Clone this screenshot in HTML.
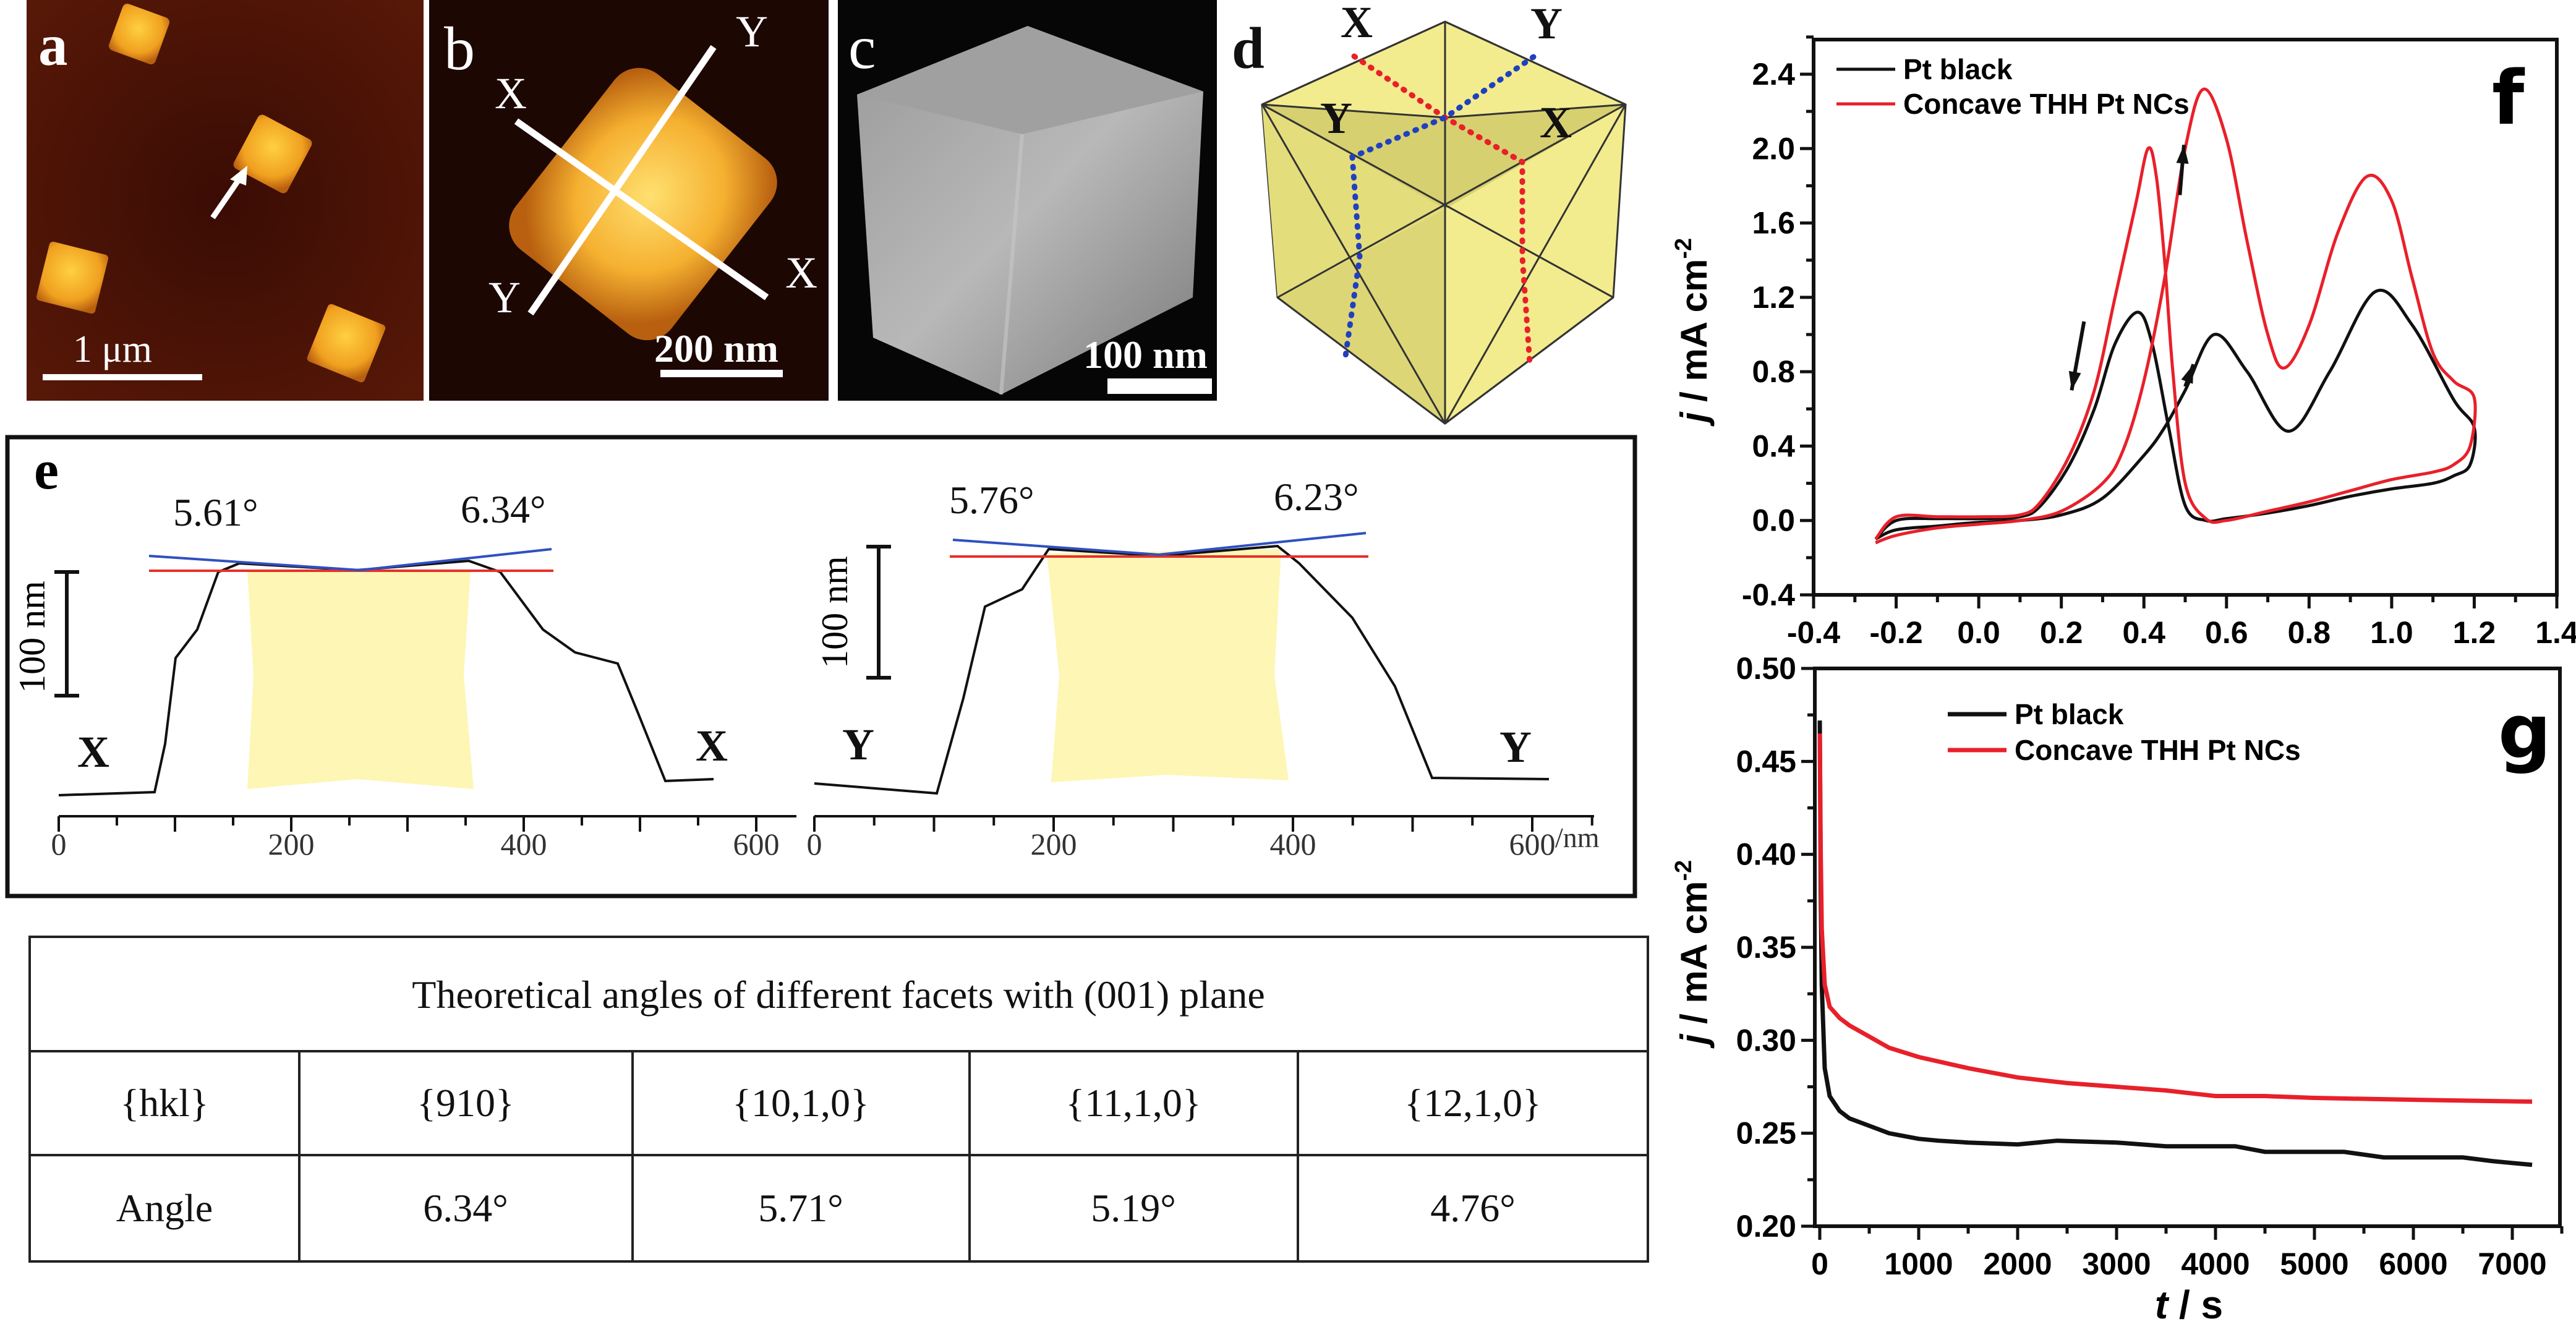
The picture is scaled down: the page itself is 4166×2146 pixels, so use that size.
<!DOCTYPE html>
<html><head><meta charset="utf-8">
<style>
html,body{margin:0;padding:0;background:#fff;}
svg{display:block;}
.ser{font-family:"Liberation Serif","DejaVu Serif",serif;}
.san{font-family:"Liberation Sans","DejaVu Sans",sans-serif;}
</style></head>
<body>
<svg id="fig" width="4166" height="2146" viewBox="0 0 4166 2146" xmlns="http://www.w3.org/2000/svg">
<defs>
<radialGradient id="bgA" cx="0.5" cy="0.5" r="0.8"><stop offset="0" stop-color="#3a0c04"/><stop offset="1" stop-color="#5c1a08"/></radialGradient>
<radialGradient id="cube" cx="0.45" cy="0.4" r="0.7"><stop offset="0" stop-color="#ffd040"/><stop offset="0.7" stop-color="#f0a020"/><stop offset="1" stop-color="#b86010"/></radialGradient>
<radialGradient id="bigB" cx="0.5" cy="0.45" r="0.6"><stop offset="0" stop-color="#ffe070"/><stop offset="0.6" stop-color="#f5b030"/><stop offset="1" stop-color="#b86010"/></radialGradient>
<linearGradient id="gcube" x1="0" y1="0" x2="1" y2="1"><stop offset="0" stop-color="#9a9a9a"/><stop offset="0.5" stop-color="#b8b8b8"/><stop offset="1" stop-color="#7a7a7a"/></linearGradient>
</defs>

<!-- Panel a -->
<g>
<rect x="43" y="0" width="642" height="648" fill="url(#bgA)"/>
<rect x="185" y="15" width="80" height="80" rx="8" fill="url(#cube)" transform="rotate(20 225 55)"/>
<rect x="392" y="200" width="98" height="98" rx="8" fill="url(#cube)" transform="rotate(28 441 249)"/>
<rect x="68" y="400" width="98" height="98" rx="6" fill="url(#cube)" transform="rotate(14 117 449)"/>
<rect x="510" y="505" width="100" height="100" rx="6" fill="url(#cube)" transform="rotate(22 560 555)"/>
<line x1="344" y1="352" x2="390" y2="285" stroke="#fff" stroke-width="9"/>
<polygon points="400,268 372,290 398,300" fill="#fff"/>
<text x="62" y="105" class="ser" font-size="95" fill="#fff" font-weight="bold">a</text>
<text x="118" y="585" class="ser" font-size="62" fill="#fff">1 μm</text>
<rect x="69" y="605" width="258" height="10" fill="#fff"/>
</g>

<!-- Panel b -->
<g>
<rect x="694" y="0" width="646" height="648" fill="#1c0703"/>
<rect x="880" y="150" width="320" height="360" rx="50" fill="url(#bigB)" transform="rotate(38 1040 330)"/>
<line x1="835" y1="196" x2="1240" y2="481" stroke="#fff" stroke-width="11"/>
<line x1="1154" y1="76" x2="858" y2="507" stroke="#fff" stroke-width="11"/>
<text x="800" y="175" class="ser" font-size="72" fill="#fff">X</text>
<text x="1190" y="75" class="ser" font-size="72" fill="#fff">Y</text>
<text x="790" y="505" class="ser" font-size="72" fill="#fff">Y</text>
<text x="1270" y="465" class="ser" font-size="72" fill="#fff">X</text>
<text x="718" y="112" class="ser" font-size="100" fill="#fff">b</text>
<text x="1058" y="585" class="ser" font-size="64" fill="#fff" font-weight="bold">200 nm</text>
<rect x="1068" y="598" width="198" height="12" fill="#fff"/>
</g>

<!-- Panel c -->
<g>
<rect x="1355" y="0" width="613" height="648" fill="#060606"/>
<polygon points="1662,42 1946,148 1929,481 1619,638 1412,546 1386,153" fill="url(#gcube)"/>
<polygon points="1662,42 1946,148 1653,217 1386,153" fill="#a0a0a0"/>
<line x1="1653" y1="217" x2="1619" y2="638" stroke="#c8c8c8" stroke-width="6" opacity="0.6"/>
<text x="1372" y="110" class="ser" font-size="100" fill="#fff">c</text>
<text x="1752" y="595" class="ser" font-size="64" fill="#fff" font-weight="bold">100 nm</text>
<rect x="1791" y="612" width="169" height="25" fill="#fff"/>
</g>

<!-- Panel d -->
<g stroke="#333" stroke-width="3">
<polygon points="2337,35 2629,169 2609,481 2337,685 2066,481 2041,169" fill="#f2ec8e"/>
<polygon points="2041,169 2337,190 2629,169 2337,338" fill="#d6d070" stroke="none"/>
<polygon points="2041,169 2337,338 2066,481" fill="#e4dd7c" stroke="none"/>
<polygon points="2337,338 2337,685 2066,481" fill="#ddd676" stroke="none"/>
<line x1="2337" y1="35" x2="2041" y2="169"/><line x1="2337" y1="35" x2="2629" y2="169"/>
<line x1="2337" y1="35" x2="2337" y2="190"/>
<line x1="2041" y1="169" x2="2337" y2="190"/><line x1="2629" y1="169" x2="2337" y2="190"/>
<line x1="2337" y1="190" x2="2337" y2="685"/>
<line x1="2041" y1="169" x2="2609" y2="481"/><line x1="2629" y1="169" x2="2066" y2="481"/>
<line x1="2066" y1="481" x2="2337" y2="685"/><line x1="2609" y1="481" x2="2337" y2="685"/>
<line x1="2041" y1="169" x2="2337" y2="685"/><line x1="2629" y1="169" x2="2337" y2="685"/>
<polyline points="2190,91 2337,190 2462,262 2462,416 2474,587" fill="none" stroke="#e8202a" stroke-width="9" stroke-dasharray="2 14" stroke-linecap="round"/>
<polyline points="2480,92 2337,190 2187,254 2199,416 2175,583" fill="none" stroke="#2040c0" stroke-width="9" stroke-dasharray="2 14" stroke-linecap="round"/>
<g stroke="none" class="ser" font-weight="bold" font-size="72" fill="#111">
<text x="1992" y="110" font-size="95">d</text>
<text x="2168" y="60">X</text><text x="2475" y="62">Y</text>
<text x="2135" y="215">Y</text><text x="2490" y="222">X</text>
</g>
</g>

<!-- Panel e -->
<g>
<rect x="12" y="707" width="2632" height="742" fill="none" stroke="#111" stroke-width="7"/>
<text x="55" y="790" class="ser" font-size="90" font-weight="bold">e</text>
<polygon points="400,922 761,922 750,1092 766,1276 577,1260 400,1276 410,1092" fill="#fdf6b5"/>
<polygon points="1693,895 2072,888 2061,1092 2084,1262 1886,1253 1700,1265 1713,1092" fill="#fdf6b5"/>
<polyline fill="none" stroke="#111" stroke-width="4" points="95,1286 250,1281 267,1203 284,1064 319,1018 353,925 387,911 577,922 758,907 809,925 878,1018 930,1055 999,1073 1033,1156 1076,1263 1154,1260"/>
<polyline fill="none" stroke="#111" stroke-width="4" points="1317,1267 1515,1283 1558,1129 1593,981 1653,953 1696,888 1877,899 2066,883 2101,911 2187,999 2256,1110 2316,1258 2505,1260"/>
<line x1="241" y1="923" x2="895" y2="923" stroke="#e8302a" stroke-width="4"/>
<line x1="1536" y1="900" x2="2213" y2="900" stroke="#e8302a" stroke-width="4"/>
<polyline points="241,899 582,922 892,888" fill="none" stroke="#3050c0" stroke-width="4"/>
<polyline points="1541,873 1874,897 2209,862" fill="none" stroke="#3050c0" stroke-width="4"/>
<g class="ser" font-size="64" fill="#111">
<text x="280" y="850">5.61°</text><text x="745" y="845">6.34°</text>
<text x="1535" y="830">5.76°</text><text x="2060" y="825">6.23°</text>
</g>
<g class="ser" font-size="72" font-weight="bold" fill="#111">
<text x="125" y="1240">X</text><text x="1125" y="1230">X</text>
<text x="1362" y="1228">Y</text><text x="2425" y="1232">Y</text>
</g>
<g stroke="#111" stroke-width="6">
<line x1="108" y1="925" x2="108" y2="1125"/><line x1="88" y1="925" x2="128" y2="925"/><line x1="88" y1="1125" x2="128" y2="1125"/>
<line x1="1421" y1="884" x2="1421" y2="1096"/><line x1="1401" y1="884" x2="1441" y2="884"/><line x1="1401" y1="1096" x2="1441" y2="1096"/>
</g>
<text class="ser" font-size="60" transform="translate(72 1030) rotate(-90)" text-anchor="middle">100 nm</text>
<text class="ser" font-size="60" transform="translate(1370 990) rotate(-90)" text-anchor="middle">100 nm</text>
<g id="eaxes" stroke="#111" stroke-width="4"></g>
<g id="elabels" class="ser" font-size="50" fill="#333" text-anchor="middle"></g>
<text x="2515" y="1370" class="ser" font-size="46" fill="#333">/nm</text>
</g>

<!-- Table -->
<g>
<rect x="48" y="1515" width="2617" height="525" fill="none" stroke="#222" stroke-width="4"/>
<line x1="48" y1="1700" x2="2665" y2="1700" stroke="#222" stroke-width="4"/>
<line x1="48" y1="1868" x2="2665" y2="1868" stroke="#222" stroke-width="4"/>
<g stroke="#222" stroke-width="4">
<line x1="484" y1="1700" x2="484" y2="2040"/><line x1="1023" y1="1700" x2="1023" y2="2040"/>
<line x1="1568" y1="1700" x2="1568" y2="2040"/><line x1="2099" y1="1700" x2="2099" y2="2040"/>
</g>
<g class="ser" font-size="64" fill="#111" text-anchor="middle">
<text x="1356" y="1630">Theoretical angles of different facets with (001) plane</text>
<text x="266" y="1805">{hkl}</text><text x="753" y="1805">{910}</text><text x="1295" y="1805">{10,1,0}</text>
<text x="1833" y="1805">{11,1,0}</text><text x="2382" y="1805">{12,1,0}</text>
<text x="266" y="1975">Angle</text><text x="753" y="1975">6.34°</text><text x="1295" y="1975">5.71°</text>
<text x="1833" y="1975">5.19°</text><text x="2382" y="1975">4.76°</text>
</g>
</g>

<!-- Chart f -->
<g id="chartF"></g>
<!-- Chart g -->
<g id="chartG"></g>
</svg>

<script>
// ---- Chart f data ----
const fXTicks = [-0.4,-0.2,0.0,0.2,0.4,0.6,0.8,1.0,1.2,1.4];
const fYTicks = [-0.4,0.0,0.4,0.8,1.2,1.6,2.0,2.4];
const fBlackE = [-0.25,-0.2,-0.1,0.0,0.1,0.2,0.3,0.4,0.45,0.5,0.57,0.65,0.75,0.85,0.96,1.05,1.15,1.2,1.19,1.15,1.1,1.0,0.9,0.8,0.7,0.6,0.55,0.5,0.46,0.42,0.385,0.33,0.28,0.22,0.15,0.1,0.0,-0.1,-0.2,-0.25];
const fBlackJ = [-0.1,-0.05,-0.03,-0.01,0.0,0.03,0.12,0.35,0.5,0.7,1.0,0.8,0.48,0.8,1.23,1.05,0.65,0.5,0.3,0.24,0.2,0.17,0.13,0.08,0.04,0.01,0.0,0.08,0.5,0.95,1.12,0.95,0.6,0.3,0.08,0.02,0.01,0.01,0.0,-0.1];
const fRedE = [-0.25,-0.2,-0.1,0.0,0.1,0.2,0.3,0.35,0.4,0.45,0.5,0.545,0.6,0.65,0.7,0.74,0.8,0.87,0.94,1.0,1.05,1.1,1.15,1.2,1.19,1.15,1.1,1.0,0.9,0.8,0.7,0.6,0.55,0.5,0.47,0.45,0.43,0.41,0.38,0.33,0.28,0.22,0.15,0.1,0.0,-0.1,-0.2,-0.25];
const fRedJ = [-0.12,-0.08,-0.04,-0.02,0.0,0.05,0.2,0.38,0.75,1.3,2.0,2.32,2.05,1.5,1.0,0.82,1.05,1.55,1.85,1.72,1.3,0.9,0.75,0.66,0.4,0.3,0.26,0.22,0.16,0.1,0.05,0.0,0.01,0.2,0.8,1.4,1.85,2.0,1.7,1.2,0.7,0.35,0.1,0.03,0.02,0.02,0.02,-0.1];
// ---- Chart g data ----
const gXTicks = [0,1000,2000,3000,4000,5000,6000,7000];
const gYTicks = [0.20,0.25,0.30,0.35,0.40,0.45,0.50];
const gBlackT = [0,10,20,50,100,150,200,300,400,500,600,700,800,900,1000,1200,1500,2000,2400,3000,3500,4000,4200,4500,5000,5300,5700,6000,6500,6800,7200];
const gBlackJ = [0.472,0.38,0.33,0.285,0.27,0.266,0.262,0.258,0.256,0.254,0.252,0.25,0.249,0.248,0.247,0.246,0.245,0.244,0.246,0.245,0.243,0.243,0.243,0.24,0.24,0.24,0.237,0.237,0.237,0.235,0.233];
const gRedT = [0,10,20,50,100,200,300,500,700,1000,1500,2000,2500,3000,3500,4000,4500,5000,6000,7200];
const gRedJ = [0.465,0.40,0.36,0.33,0.318,0.312,0.308,0.302,0.296,0.291,0.285,0.28,0.277,0.275,0.273,0.27,0.27,0.269,0.268,0.267];

const NS = "http://www.w3.org/2000/svg";
function mk(tag, attrs, parent){ const e=document.createElementNS(NS,tag); for(const k in attrs) e.setAttribute(k,attrs[k]); parent.appendChild(e); return e; }
function smooth(pts){
  let d = "M"+pts[0][0].toFixed(1)+","+pts[0][1].toFixed(1);
  for(let i=0;i<pts.length-1;i++){
    const p0=pts[Math.max(0,i-1)],p1=pts[i],p2=pts[i+1],p3=pts[Math.min(pts.length-1,i+2)];
    const c1=[p1[0]+(p2[0]-p0[0])/6,p1[1]+(p2[1]-p0[1])/6];
    const c2=[p2[0]-(p3[0]-p1[0])/6,p2[1]-(p3[1]-p1[1])/6];
    d+=" C"+c1[0].toFixed(1)+","+c1[1].toFixed(1)+" "+c2[0].toFixed(1)+","+c2[1].toFixed(1)+" "+p2[0].toFixed(1)+","+p2[1].toFixed(1);
  }
  return d;
}

// Panel e axes
(function(){
  const ax=document.getElementById('eaxes'), lb=document.getElementById('elabels');
  const axes=[{x0:95,x1:1288,sx:(827-451)/200,o:95,labels:[0,200,400,600]},{x0:1317,x1:2578,sx:(2075-1688)/200,o:1317,labels:[0,200,400,600]}];
  axes.forEach(a=>{
    mk('line',{x1:a.x0,y1:1320,x2:a.x1,y2:1320},ax);
    for(let v=0;v<=650;v+=50){ const x=a.o+v*a.sx; if(x>a.x1) break; mk('line',{x1:x,y1:1320,x2:x,y2:v%100===0?1345:1335},ax); }
    a.labels.forEach(v=>{ const t=mk('text',{x:a.o+v*a.sx,y:1382},lb); t.textContent=v; });
  });
})();

// Chart f
(function(){
  const g=document.getElementById('chartF');
  const L=2933,R=4135,T=64,B=962;
  const X=v=>L+(v+0.4)/1.8*(R-L);
  const Y=v=>B-(v+0.4)/(2.4+0.4)*(B-120);
  const frame=mk('rect',{x:L,y:T,width:R-L,height:B-T,fill:'none',stroke:'#111','stroke-width':6},g);
  
  
  fXTicks.forEach((v,i)=>{
    mk('line',{x1:X(v),y1:B,x2:X(v),y2:B+22,stroke:'#111','stroke-width':5},g);
    if(i<fXTicks.length-1) mk('line',{x1:X(v+0.1),y1:B,x2:X(v+0.1),y2:B+12,stroke:'#111','stroke-width':5},g);
    const t=mk('text',{x:X(v),y:B+78,'text-anchor':'middle','font-size':50,'font-weight':'bold','font-family':'Liberation Sans, sans-serif'},g);
    
    
    t.textContent=v.toFixed(1);
  });
  fYTicks.forEach((v,i)=>{
    mk('line',{x1:L-22,y1:Y(v),x2:L,y2:Y(v),stroke:'#111','stroke-width':5},g);
    mk('line',{x1:L-12,y1:Y(v+0.2),x2:L,y2:Y(v+0.2),stroke:'#111','stroke-width':5},g);
    const t=mk('text',{x:L-30,y:Y(v)+17,'text-anchor':'end','font-size':50,'font-weight':'bold','font-family':'Liberation Sans, sans-serif'},g);
    
    
    t.textContent=v.toFixed(1);
  });
  const yt=mk('text',{transform:'translate(2760 534) rotate(-90)','text-anchor':'middle','font-size':60,'font-weight':'bold','font-family':'Liberation Sans, sans-serif'},g);
  
  
  yt.innerHTML='<tspan font-style="italic">j</tspan> / mA cm<tspan dy="-25" font-size="38">-2</tspan>';
  const bp=mk('path',{d:smooth(fBlackE.map((e,i)=>[X(e),Y(fBlackJ[i])])),fill:'none',stroke:'#111','stroke-width':5},g);
  
  
  const rp=mk('path',{d:smooth(fRedE.map((e,i)=>[X(e),Y(fRedJ[i])])),fill:'none',stroke:'#e8202a','stroke-width':5},g);
  
  
  // arrows
  const arrows=[[0.255,1.07,0.225,0.70],[0.50,0.72,0.52,0.84],[0.487,1.75,0.497,2.02]];
  arrows.forEach(a=>{
    const x1=X(a[0]),y1=Y(a[1]),x2=X(a[2]),y2=Y(a[3]);
    mk('line',{x1:x1,y1:y1,x2:x2,y2:y2,stroke:'#111','stroke-width':6},g);
    const ang=Math.atan2(y2-y1,x2-x1), s=30;
    const p=[[x2,y2],[x2-s*Math.cos(ang)+10*Math.sin(ang),y2-s*Math.sin(ang)-10*Math.cos(ang)],[x2-s*Math.cos(ang)-10*Math.sin(ang),y2-s*Math.sin(ang)+10*Math.cos(ang)]];
    const ah=mk('polygon',{points:p.map(q=>q.join(',')).join(' '),fill:'#111'},g);
    
    
  });
  // legend
  mk('line',{x1:2970,y1:112,x2:3065,y2:112,stroke:'#111','stroke-width':5},g);
  mk('line',{x1:2970,y1:168,x2:3065,y2:168,stroke:'#e8202a','stroke-width':5},g);
  const l1=mk('text',{x:3078,y:128,'font-size':46,'font-weight':'bold','font-family':'Liberation Sans, sans-serif'},g);
  
  
  l1.textContent='Pt black';
  const l2=mk('text',{x:3078,y:184,'font-size':46,'font-weight':'bold','font-family':'Liberation Sans, sans-serif'},g);
  
  
  l2.textContent='Concave THH Pt NCs';
  const pl=mk('text',{x:4030,y:200,'font-size':120,'font-weight':'bold','font-family':'DejaVu Sans, sans-serif'},g);
  
  
  pl.textContent='f';
})();

// Chart g
(function(){
  const g=document.getElementById('chartG');
  const L=2935,R=4140,T=1081,B=1983;
  const X=v=>2943+v/1000*160;
  const Y=v=>B-(v-0.20)/0.30*(B-T);
  const frame=mk('rect',{x:L,y:T,width:R-L,height:B-T,fill:'none',stroke:'#111','stroke-width':6},g);
  
  
  gXTicks.forEach(v=>{
    mk('line',{x1:X(v),y1:B,x2:X(v),y2:B+22,stroke:'#111','stroke-width':5},g);
    mk('line',{x1:X(v+500),y1:B,x2:X(v+500),y2:B+12,stroke:'#111','stroke-width':5},g);
    const t=mk('text',{x:X(v),y:B+78,'text-anchor':'middle','font-size':50,'font-weight':'bold','font-family':'Liberation Sans, sans-serif'},g);
    
    
    t.textContent=v;
  });
  gYTicks.forEach(v=>{
    mk('line',{x1:L-22,y1:Y(v),x2:L,y2:Y(v),stroke:'#111','stroke-width':5},g);
    if(v<0.5) mk('line',{x1:L-12,y1:Y(v+0.025),x2:L,y2:Y(v+0.025),stroke:'#111','stroke-width':5},g);
    const t=mk('text',{x:L-30,y:Y(v)+17,'text-anchor':'end','font-size':50,'font-weight':'bold','font-family':'Liberation Sans, sans-serif'},g);
    
    
    t.textContent=v.toFixed(2);
  });
  const yt=mk('text',{transform:'translate(2760 1540) rotate(-90)','text-anchor':'middle','font-size':60,'font-weight':'bold','font-family':'Liberation Sans, sans-serif'},g);
  
  
  yt.innerHTML='<tspan font-style="italic">j</tspan> / mA cm<tspan dy="-25" font-size="38">-2</tspan>';
  const xt=mk('text',{x:3540,y:2132,'text-anchor':'middle','font-size':64,'font-weight':'bold','font-family':'Liberation Sans, sans-serif'},g);
  
  
  xt.innerHTML='<tspan font-style="italic">t</tspan> / s';
  const bp=mk('polyline',{points:gBlackT.map((t,i)=>X(t)+','+Y(gBlackJ[i])).join(' '),fill:'none',stroke:'#111','stroke-width':7},g);
  
  
  const rp=mk('polyline',{points:gRedT.map((t,i)=>X(t)+','+Y(gRedJ[i])).join(' '),fill:'none',stroke:'#e8202a','stroke-width':7},g);
  
  
  mk('line',{x1:3150,y1:1155,x2:3245,y2:1155,stroke:'#111','stroke-width':7},g);
  mk('line',{x1:3150,y1:1213,x2:3245,y2:1213,stroke:'#e8202a','stroke-width':7},g);
  const l1=mk('text',{x:3258,y:1171,'font-size':46,'font-weight':'bold','font-family':'Liberation Sans, sans-serif'},g);
  
  
  l1.textContent='Pt black';
  const l2=mk('text',{x:3258,y:1229,'font-size':46,'font-weight':'bold','font-family':'Liberation Sans, sans-serif'},g);
  
  
  l2.textContent='Concave THH Pt NCs';
  const pl=mk('text',{x:4040,y:1225,'font-size':120,'font-weight':'bold','font-family':'DejaVu Sans, sans-serif'},g);
  
  
  pl.textContent='g';
})();
</script>
</body></html>
